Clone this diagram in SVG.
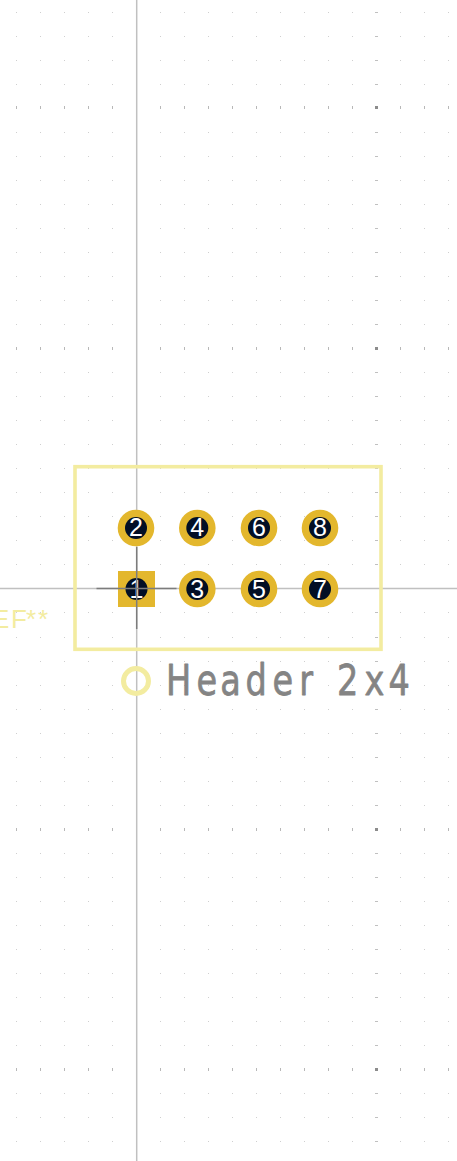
<svg xmlns="http://www.w3.org/2000/svg" xmlns:xlink="http://www.w3.org/1999/xlink" width="457" height="1161" viewBox="0 0 457 1161">
<style>
.minor{stroke:#cfcfcf;stroke-width:1;stroke-dasharray:1 23;fill:none}
.major{stroke:#b8b8b8;stroke-width:3;stroke-dasharray:1 23;fill:none}
.pad{fill:#e3b72d}
.hole{fill:#020f25}
.num{font-family:"Liberation Sans",sans-serif;font-size:25px;fill:#fff;text-anchor:middle}
.axis{stroke:#c0c0c0;stroke-width:1.5;fill:none}
.cross{stroke:#7c7c7c;stroke-width:1.5;fill:none}
.silk{stroke:#f3eca0;fill:none}
</style>
<defs>
<g id="rowMinor"><path class="minor" d="M16 .5H457"/><rect x="375" y="0" width="3" height="1" fill="#c0c0c0"/></g>
<g id="rowMajor"><path class="major" d="M16 .5H457"/><rect x="375" y="-1" width="3" height="3" fill="#8c8c8c"/></g>
</defs>
<rect width="457" height="1161" fill="#fff"/>
<g id="grid">
<use xlink:href="#rowMinor" y="12"/><use xlink:href="#rowMinor" y="36"/><use xlink:href="#rowMinor" y="60"/><use xlink:href="#rowMinor" y="84"/><use xlink:href="#rowMajor" y="107"/><use xlink:href="#rowMinor" y="132"/><use xlink:href="#rowMinor" y="156"/><use xlink:href="#rowMinor" y="180"/><use xlink:href="#rowMinor" y="204"/><use xlink:href="#rowMinor" y="228"/><use xlink:href="#rowMinor" y="252"/><use xlink:href="#rowMinor" y="276"/><use xlink:href="#rowMinor" y="300"/><use xlink:href="#rowMinor" y="324"/><use xlink:href="#rowMajor" y="348"/><use xlink:href="#rowMinor" y="372"/><use xlink:href="#rowMinor" y="396"/><use xlink:href="#rowMinor" y="420"/><use xlink:href="#rowMinor" y="444"/><use xlink:href="#rowMinor" y="468"/><use xlink:href="#rowMinor" y="492"/><use xlink:href="#rowMinor" y="516"/><use xlink:href="#rowMinor" y="540"/><use xlink:href="#rowMinor" y="564"/><use xlink:href="#rowMinor" y="612"/><use xlink:href="#rowMinor" y="637"/><use xlink:href="#rowMinor" y="661"/><use xlink:href="#rowMinor" y="685"/><use xlink:href="#rowMinor" y="709"/><use xlink:href="#rowMinor" y="733"/><use xlink:href="#rowMinor" y="757"/><use xlink:href="#rowMinor" y="781"/><use xlink:href="#rowMinor" y="805"/><use xlink:href="#rowMajor" y="829"/><use xlink:href="#rowMinor" y="853"/><use xlink:href="#rowMinor" y="877"/><use xlink:href="#rowMinor" y="901"/><use xlink:href="#rowMinor" y="925"/><use xlink:href="#rowMinor" y="949"/><use xlink:href="#rowMinor" y="973"/><use xlink:href="#rowMinor" y="997"/><use xlink:href="#rowMinor" y="1021"/><use xlink:href="#rowMinor" y="1045"/><use xlink:href="#rowMajor" y="1069"/><use xlink:href="#rowMinor" y="1093"/><use xlink:href="#rowMinor" y="1117"/><use xlink:href="#rowMinor" y="1141"/>
</g>
<g id="axes">
<path class="axis" d="M136.7 0V1161"/>
<path class="axis" d="M0 588.5H457"/>
</g>
<g id="courtyard"><rect class="silk" x="75" y="466.7" width="306" height="182.6" stroke-width="3.6"/></g>
<g id="reference"><text x="-24 -8 11 26 38" y="628" font-family="Liberation Sans, sans-serif" font-size="26" fill="#f3eca0">REF**</text></g>
<g id="marker"><circle class="silk" cx="136" cy="681" r="12.5" stroke-width="5"/></g>
<g id="value"><text transform="scale(.78 1)" x="212.8 251.9 282.4 314.7 349.4 383.7 410 432 467.2 498.2" y="694.6" font-family="DejaVu Sans, sans-serif" font-size="43" fill="#848484" stroke="#848484" stroke-width=".8" stroke-linejoin="round">Header 2x4</text></g>
<g id="pad1"><rect class="pad" x="118" y="571" width="37" height="36"/><circle class="hole" cx="136.5" cy="589" r="11"/><text class="num" x="136.5" y="597.5">1</text></g>
<g id="pad2"><circle class="pad" cx="136" cy="528" r="18.3"/><circle class="hole" cx="136" cy="528" r="11"/><text class="num" x="136" y="536">2</text></g>
<g id="pad3"><circle class="pad" cx="197.3" cy="589" r="18.3"/><circle class="hole" cx="197.3" cy="589" r="11"/><text class="num" x="197.3" y="597.5">3</text></g>
<g id="pad4"><circle class="pad" cx="197.3" cy="528" r="18.3"/><circle class="hole" cx="197.3" cy="528" r="11"/><text class="num" x="197.3" y="536">4</text></g>
<g id="pad5"><circle class="pad" cx="259" cy="589" r="18.3"/><circle class="hole" cx="259" cy="589" r="11"/><text class="num" x="259" y="597.5">5</text></g>
<g id="pad6"><circle class="pad" cx="259" cy="528" r="18.3"/><circle class="hole" cx="259" cy="528" r="11"/><text class="num" x="259" y="536">6</text></g>
<g id="pad7"><circle class="pad" cx="320" cy="589" r="18.3"/><circle class="hole" cx="320" cy="589" r="11"/><text class="num" x="320" y="597.5">7</text></g>
<g id="pad8"><circle class="pad" cx="320" cy="528" r="18.3"/><circle class="hole" cx="320" cy="528" r="11"/><text class="num" x="320" y="536">8</text></g>
<g id="crosshair"><path class="cross" d="M96.5 588.5H176.5M136.7 547V629"/></g>
</svg>
